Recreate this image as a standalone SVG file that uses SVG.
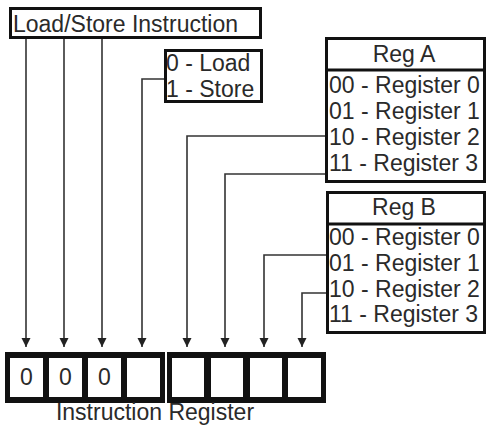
<svg xmlns="http://www.w3.org/2000/svg" width="486" height="425" viewBox="0 0 486 425">
<defs>
<marker id="arr" markerWidth="10" markerHeight="10" refX="9" refY="5" orient="auto" markerUnits="userSpaceOnUse">
<path d="M0,0.5 L9,5 L0,9.5 Z" fill="#222"/>
</marker>
<style>
.box{fill:#fff;stroke:#111;stroke-width:3}
.t{font-family:"Liberation Sans",Arial,sans-serif;font-size:23px;fill:#2a2a2a}
.c{fill:none;stroke:#333;stroke-width:1.6;marker-end:url(#arr)}
.blk{fill:#111}
.cell{fill:#fff}
</style>
</defs>
<rect width="486" height="425" fill="#fff"/>
<g id="connectors">
<path class="c" d="M26,38 V347"/>
<path class="c" d="M64,38 V347"/>
<path class="c" d="M102,38 V347"/>
<path class="c" d="M164,79 H142 V347"/>
<path class="c" d="M326,136 H187 V347"/>
<path class="c" d="M326,174 H225 V347"/>
<path class="c" d="M327,255 H264 V347"/>
<path class="c" d="M327,293 H302 V347"/>
</g>
<g id="loadstore">
<rect class="box" x="10.5" y="8.5" width="250" height="29"/>
<text class="t" x="13" y="32">Load/Store Instruction</text>
</g>
<g id="opcode">
<rect class="box" x="165.5" y="50.5" width="96" height="51"/>
<text class="t" x="166" y="71">0 - Load</text>
<text class="t" x="166" y="97">1 - Store</text>
</g>
<g id="regA">
<rect class="box" x="326.5" y="38.5" width="158" height="143"/>
<line x1="326" y1="70" x2="485" y2="70" stroke="#111" stroke-width="3"/>
<text class="t" x="404" y="62" text-anchor="middle">Reg A</text>
<text class="t" x="329" y="93">00 - Register 0</text>
<text class="t" x="329" y="119">01 - Register 1</text>
<text class="t" x="329" y="145">10 - Register 2</text>
<text class="t" x="329" y="171">11 - Register 3</text>
</g>
<g id="regB">
<rect class="box" x="327.5" y="192.5" width="157" height="140"/>
<line x1="327" y1="224" x2="485" y2="224" stroke="#111" stroke-width="3"/>
<text class="t" x="404" y="215" text-anchor="middle">Reg B</text>
<text class="t" x="329" y="245">00 - Register 0</text>
<text class="t" x="329" y="271">01 - Register 1</text>
<text class="t" x="329" y="297">10 - Register 2</text>
<text class="t" x="329" y="322">11 - Register 3</text>
</g>
<g id="instruction-register">
<rect class="blk" x="5" y="352" width="160" height="51"/>
<rect class="cell" x="10" y="358" width="33" height="39"/>
<rect class="cell" x="49" y="358" width="33" height="39"/>
<rect class="cell" x="88" y="358" width="33" height="39"/>
<rect class="cell" x="127" y="358" width="33" height="39"/>
<rect class="blk" x="167" y="352" width="159" height="51"/>
<rect class="cell" x="172" y="358" width="32" height="39"/>
<rect class="cell" x="211" y="358" width="32" height="39"/>
<rect class="cell" x="250" y="358" width="32" height="39"/>
<rect class="cell" x="288" y="358" width="33" height="39"/>
<text class="t" x="26.5" y="385" text-anchor="middle">0</text>
<text class="t" x="65.5" y="385" text-anchor="middle">0</text>
<text class="t" x="104.5" y="385" text-anchor="middle">0</text>
<text class="t" x="155" y="420" text-anchor="middle">Instruction Register</text>
</g>
</svg>
